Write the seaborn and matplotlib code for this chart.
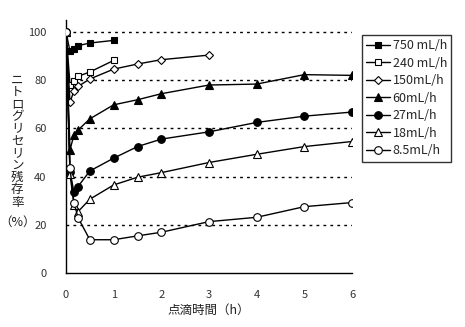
import matplotlib
matplotlib.use("Agg")
import matplotlib.pyplot as plt
import seaborn as sns
import pandas as pd

labels = ["750 mL/h", "240 mL/h", "150mL/h", "60mL/h", "27mL/h", "18mL/h", "8.5mL/h"]

t_750 = [0, 0.083, 0.167, 0.25, 0.5, 1]
v_750 = [100, 91.8, 93.0, 94.2, 95.3, 96.4]

t_240 = [0, 0.083, 0.167, 0.25, 0.5, 1]
v_240 = [100, 78.0, 79.5, 81.5, 83.3, 88.1]

t_150 = [0, 0.083, 0.167, 0.25, 0.5, 1, 1.5, 2, 3]
v_150 = [100, 70.7, 75.6, 77.3, 80.4, 84.5, 86.6, 88.4, 90.3]

t_long = [0, 0.083, 0.167, 0.25, 0.5, 1, 1.5, 2, 3, 4, 5, 6]
v_60 = [100, 51.0, 57.3, 59.2, 63.9, 69.7, 71.8, 74.3, 77.9, 78.3, 82.2, 81.9]
v_27 = [100, 42.0, 33.5, 35.8, 42.3, 47.6, 52.4, 55.5, 58.5, 62.4, 65.0, 66.7]
v_18 = [100, 41.0, 28.2, 25.4, 30.6, 36.5, 39.7, 41.6, 45.8, 49.2, 52.4, 54.5]
v_8_5 = [100, 43.5, 29.2, 23.0, 13.8, 13.8, 15.4, 16.9, 21.3, 23.1, 27.5, 29.2]

xticks = [0, 1, 2, 3, 4, 5, 6]
yticks = [0, 20, 40, 60, 80, 100]

series = [
    (labels[0], t_750, v_750, "s", "black"),
    (labels[1], t_240, v_240, "s", "white"),
    (labels[2], t_150, v_150, "D", "white"),
    (labels[3], t_long, v_60, "^", "black"),
    (labels[4], t_long, v_27, "o", "black"),
    (labels[5], t_long, v_18, "^", "white"),
    (labels[6], t_long, v_8_5, "o", "white"),
]
sizes = {"s": 5, "D": 3.8, "^": 5.8, "o": 5.5}

sns.set_style("white")
plt.rcParams["font.family"] = ["Noto Sans CJK JP", "DejaVu Sans"]

fig = plt.figure(figsize=(4.65, 3.27), dpi=100)
ax = fig.add_axes([0.142, 0.165, 0.615, 0.775])

for yv in yticks[1:]:
    ax.axhline(yv, color="black", lw=1.0, ls=(0, (2, 3)), zorder=0)

for lab, t, v, m, fc in series:
    df = pd.DataFrame({"t": t, "v": v})
    sns.lineplot(data=df, x="t", y="v", ax=ax, color="black", lw=1.0,
                 marker=m, markersize=sizes[m], markerfacecolor=fc,
                 markeredgecolor="black", markeredgewidth=0.8, label=lab,
                 legend=False, zorder=3)

ax.set_xlim(0, 6)
ax.set_ylim(0, 105)
ax.set_xticks(xticks)
ax.set_yticks(yticks)
ax.tick_params(axis="x", direction="in", length=3, width=0.8, labelsize=8, pad=12, colors="black")
ax.tick_params(axis="y", length=0, labelsize=8, pad=14)
for lbl in ax.get_xticklabels() + ax.get_yticklabels():
    lbl.set_color("#333333")
ax.spines["top"].set_visible(False)
ax.spines["right"].set_visible(False)
for s in ["left", "bottom"]:
    ax.spines[s].set_color("black")
    ax.spines[s].set_linewidth(1.0)
ax.set_xlabel("点滴時間（h）", fontsize=9, labelpad=3, color="#222222")
ax.set_ylabel("")

fig.text(0.037, 0.362, "\n".join("ニトログリセリン残存率"), fontsize=9,
         ha="center", va="bottom", linespacing=0.92, color="#222222")
fig.text(0.037, 0.321, "（%）", fontsize=9, ha="center", va="center", color="#222222")

handles, labs = ax.get_legend_handles_labels()
leg = ax.legend(handles, labs, loc="upper left", bbox_to_anchor=(1.035, 0.94),
                frameon=True, fancybox=False, edgecolor="black", fontsize=9,
                handlelength=1.9, handletextpad=0.2, labelspacing=0.36,
                borderpad=0.35, borderaxespad=0)
leg.get_frame().set_linewidth(1.0)

fig.savefig("out.png", dpi=100)
